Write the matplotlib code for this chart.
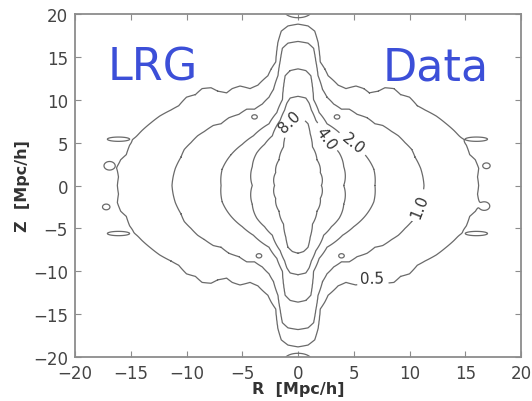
import numpy as np
import matplotlib
matplotlib.use("Agg")
import matplotlib.pyplot as plt

# contour levels of xi(R, Z)
levels = [0.5, 1.0, 2.0, 4.0, 8.0]

# traced edge of each level in one quadrant (R >= 0, Z >= 0)
edge05_R = [0.0, 0.9, 1.5, 1.8, 2.0, 2.4, 2.7, 3.6, 4.3, 5.2, 5.9, 6.4, 7.2, 7.8, 8.6, 9.2, 10.0, 10.7, 11.4, 12.4, 13.2, 14.0, 14.7, 15.1, 15.4, 15.9, 16.2, 16.1, 16.2]
edge05_Z = [18.8, 18.6, 18.0, 16.7, 14.4, 13.6, 12.8, 11.7, 11.3, 11.6, 11.3, 10.8, 11.0, 11.4, 11.3, 10.6, 10.3, 9.3, 8.8, 8.1, 7.3, 6.4, 5.4, 4.7, 3.6, 3.0, 2.0, 1.0, 0.0]

edge10_R = [0.0, 0.9, 1.4, 1.6, 1.8, 2.2, 2.6, 3.2, 3.9, 4.6, 5.3, 6.2, 6.9, 7.6, 8.4, 9.0, 9.6, 10.2, 10.5, 11.0, 11.2, 11.3]
edge10_Z = [16.8, 16.6, 16.0, 14.5, 12.8, 11.2, 10.3, 9.5, 8.9, 8.9, 8.3, 7.9, 7.2, 7.0, 6.3, 5.8, 5.0, 4.2, 3.3, 2.0, 1.0, 0.0]

edge20_R = [0.0, 0.7, 1.15, 1.3, 1.4, 1.9, 2.6, 4.0, 5.0, 6.0, 6.8, 6.9]
edge20_Z = [13.6, 13.4, 12.8, 11.5, 10.0, 8.5, 7.2, 5.8, 4.8, 3.6, 1.9, 0.0]

edge40_R = [0.0, 0.7, 1.0, 1.2, 1.6, 2.3, 3.0, 3.7, 4.1, 4.1]
edge40_Z = [10.4, 10.2, 9.6, 8.8, 7.6, 5.8, 4.8, 3.8, 2.2, 0.0]

edge80_R = [0.0, 0.5, 0.9, 1.1, 1.3, 1.7, 2.0, 2.1]
edge80_Z = [7.9, 7.7, 7.2, 6.0, 4.5, 3.0, 1.5, 0.0]

# small noise islands: centre R, centre Z, half-size in R, half-size in Z
blob_R = [0.0, 0.0, -16.1, -16.1, 16.0, 16.0, -16.9, 16.7, -17.2, 16.9, -3.9, 3.5, -3.5, 3.9]
blob_Z = [20.4, -20.4, 5.4, -5.6, 5.4, -5.6, 2.3, -2.4, -2.5, 2.3, 8.0, 8.0, -8.2, -8.2]
blob_wR = [1.5, 1.5, 1.2, 1.2, 1.2, 1.2, 0.6, 0.6, 0.4, 0.4, 0.3, 0.3, 0.3, 0.3]
blob_wZ = [1.0, 1.0, 0.3, 0.3, 0.3, 0.3, 0.6, 0.6, 0.4, 0.4, 0.3, 0.3, 0.3, 0.3]

label_text = ["0.5", "1.0", "2.0", "4.0", "8.0"]
label_R = [-0.7, 2.3, 4.7, 10.6, 6.7]
label_Z = [7.4, 5.3, 4.6, -2.2, -10.7]

traces = [(edge05_R, edge05_Z), (edge10_R, edge10_Z), (edge20_R, edge20_Z),
          (edge40_R, edge40_Z), (edge80_R, edge80_Z)]

g = np.linspace(-20, 20, 801)
RR, ZZ = np.meshgrid(g, g)
theta = np.degrees(np.arctan2(np.abs(ZZ), np.abs(RR)))
rad = np.hypot(RR, ZZ)
F = np.zeros_like(RR)
s = 0.06
for eR, eZ in traces:
    eR = np.asarray(eR); eZ = np.asarray(eZ)
    th = np.degrees(np.arctan2(eZ, eR))
    rr = np.hypot(eR, eZ)
    o = np.argsort(th)
    edge = np.interp(theta, th[o], rr[o])
    F += 0.5 * (1 + np.tanh((edge - rad) / (2 * s)))
for bR, bZ, wR, wZ in zip(blob_R, blob_Z, blob_wR, blob_wZ):
    F += np.exp(-((RR - bR) / wR) ** 2 - ((ZZ - bZ) / wZ) ** 2)

fig = plt.figure(figsize=(5.32, 4.02), dpi=100)
ax = fig.add_axes([75 / 532, 1 - 358 / 402, 446 / 532, 343 / 402])

cl = np.arange(len(levels)) + 0.5
cs = ax.contour(RR, ZZ, F, levels=cl, colors="#6a6a6a", linewidths=0.9)
fmt = {c: t for c, t in zip(cl, label_text)}
ax.clabel(cs, fmt=fmt, manual=list(zip(label_R, label_Z)), inline=True,
          fontsize=11, colors="#333333")

ax.set_xlim(-20, 20)
ax.set_ylim(-20, 20)
ax.set_xticks(np.arange(-20, 21, 5))
ax.set_yticks(np.arange(-20, 21, 5))
for sp in ax.spines.values():
    sp.set_color("#8c8c8c")
    sp.set_linewidth(1.3)
ax.tick_params(direction="in", length=4, width=0.8, color="#8c8c8c",
               top=True, right=True, labelsize=12, labelcolor="#444444", pad=5)
ax.set_xlabel("R  [Mpc/h]", fontsize=11.5, fontweight="bold", color="#333333", labelpad=-1)
ax.set_ylabel("Z  [Mpc/h]", fontsize=11.5, fontweight="bold", color="#333333", labelpad=2)

ax.text(0.074, 0.81, "LRG", transform=ax.transAxes, fontsize=32, color="#3c4fd8",
        ha="left", va="baseline")
ax.text(0.69, 0.81, "Data", transform=ax.transAxes, fontsize=32, color="#3c4fd8",
        ha="left", va="baseline")

fig.savefig("out.png", dpi=100)
